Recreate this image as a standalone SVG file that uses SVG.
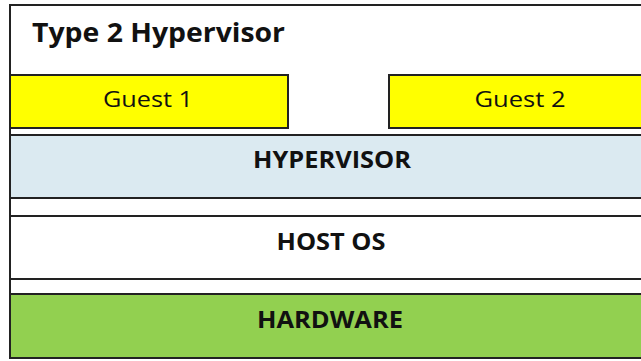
<svg xmlns="http://www.w3.org/2000/svg" width="641" height="361" viewBox="0 0 641 361">
<style>
.b{stroke:#222;stroke-width:2}
.t{font-family:"Open Sans","Liberation Sans",sans-serif;fill:#111;text-anchor:middle}
.bold{font-weight:bold;font-size:23px}
.g{font-size:22px}
</style>
<rect x="0" y="0" width="641" height="361" fill="#fff"/>
<g id="frame">
<rect x="10" y="5" width="640" height="353" fill="#fff" class="b"/>
<text x="32" y="42" class="t" style="text-anchor:start;font-weight:bold;font-size:27px" textLength="253" lengthAdjust="spacingAndGlyphs">Type 2 Hypervisor</text>
</g>
<g id="guest1">
<rect x="10" y="75" width="278" height="53" fill="#ffff00" class="b"/>
<text x="148" y="107" class="t g" textLength="90" lengthAdjust="spacingAndGlyphs">Guest 1</text>
</g>
<g id="guest2">
<rect x="389" y="75" width="262" height="53" fill="#ffff00" class="b"/>
<text x="520" y="107" class="t g" textLength="91" lengthAdjust="spacingAndGlyphs">Guest 2</text>
</g>
<g id="hypervisor">
<rect x="10" y="135" width="640" height="63" fill="#dbeaf1" class="b"/>
<text x="332" y="168" class="t bold" textLength="158" lengthAdjust="spacingAndGlyphs">HYPERVISOR</text>
</g>
<g id="hostos">
<rect x="10" y="216" width="640" height="63" fill="#fff" class="b"/>
<text x="331" y="250" class="t bold" textLength="109" lengthAdjust="spacingAndGlyphs">HOST OS</text>
</g>
<g id="hardware">
<rect x="10" y="294" width="640" height="64" fill="#92d050" class="b"/>
<text x="330" y="328" class="t bold" textLength="146" lengthAdjust="spacingAndGlyphs">HARDWARE</text>
</g>
<g id="connectors"></g>
</svg>
